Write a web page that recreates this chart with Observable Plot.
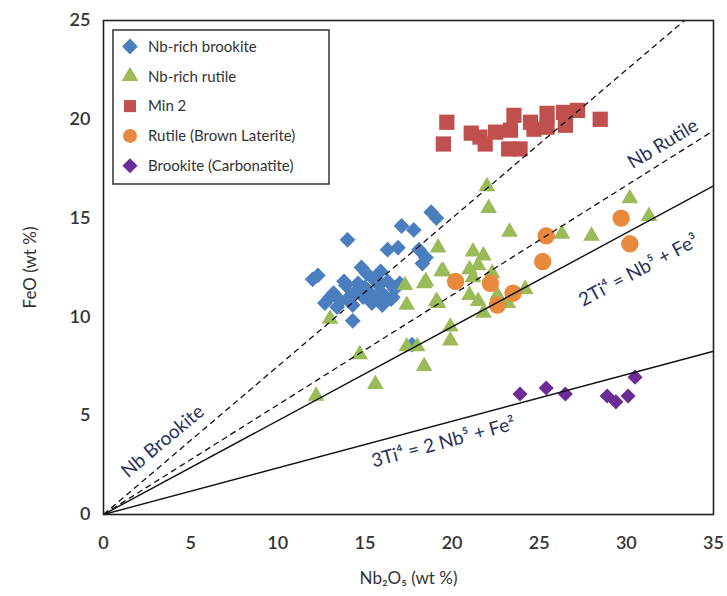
<!DOCTYPE html>
<html><head><meta charset="utf-8">
<script src="https://cdn.jsdelivr.net/npm/d3@7"></script>
<script src="https://cdn.jsdelivr.net/npm/@observablehq/plot@0.6"></script>
<style>
body{margin:0;background:#fff}
#wrap{width:727px;height:596px}
</style></head><body><div id="wrap"></div>
<script>
// ---- data (Nb2O5 wt %, FeO wt %) ----
const nbRichBrookite = [
  [12.0,11.9],[12.3,12.1],[14.0,13.9],[18.8,15.3],[19.1,15.0],[17.1,14.6],[17.8,14.4],
  [16.3,13.4],[16.9,13.5],[18.1,13.4],[18.5,13.0],[18.3,12.7],[14.8,12.5],[15.9,12.3],
  [14.3,9.8],[17.7,8.6],
  [12.7,10.7],[13.2,11.2],[13.6,10.8],[13.8,11.8],[13.9,11.6],[14.2,11.1],[14.3,10.6],
  [14.6,11.7],[14.9,11.0],[15.1,12.2],[15.2,11.3],[15.4,10.7],[15.8,11.6],[16.1,11.1],
  [16.3,11.8],[16.5,10.9],[16.7,11.4],[17.0,11.7],[13.4,10.5],[15.6,11.0],[16.0,10.6],
  [13.0,11.0],[14.0,10.9],[15.0,11.5],[15.5,11.9],[16.6,11.0],[14.5,11.3]
];
const nbRichRutile = [
  [12.2,6.0],[13.0,9.9],[14.7,8.1],[15.6,6.6],[17.4,8.5],[18.0,8.5],[18.4,7.5],
  [17.3,11.6],[18.4,11.7],[17.4,10.6],[19.1,10.8],[19.2,13.5],[19.4,12.3],[18.5,11.8],
  [19.2,10.7],[19.9,9.5],[19.9,8.8],[21.2,13.3],[21.8,13.1],[21.0,12.4],[21.5,12.6],
  [19.5,12.3],[22.3,12.2],[21.0,11.1],[21.5,10.8],[21.8,10.2],[23.2,10.7],[24.2,11.4],
  [21.2,12.0],[22.6,11.1],[22.0,16.6],[22.1,15.5],[23.3,14.3],[26.3,14.2],[28.0,14.1],
  [30.2,16.0],[31.3,15.1]
];
const min2 = [
  [19.7,19.85],[19.5,18.75],[21.1,19.3],[21.6,19.1],[21.9,18.75],[22.5,19.35],[23.35,19.45],
  [23.55,20.2],[23.25,18.5],[23.9,18.5],[24.5,19.85],[24.7,19.5],[25.45,20.3],[25.45,19.6],
  [26.4,20.35],[26.5,19.7],[27.2,20.45],[28.5,20.0]
];
const rutileLaterite = [
  [20.2,11.8],[22.2,11.7],[23.5,11.2],[22.6,10.6],[25.4,14.1],[25.2,12.8],[29.7,15.0],[30.2,13.7]
];
const brookiteCarbonatite = [
  [23.9,6.1],[25.4,6.4],[26.5,6.1],[28.9,6.0],[29.4,5.7],[30.1,6.0],[30.5,6.95]
];

const seriesNames = ["Nb-rich brookite","Nb-rich rutile","Min 2","Rutile (Brown Laterite)","Brookite (Carbonatite)"];
const seriesColors = ["#4a7ebf","#9bbb59","#c0504d","#e8893d","#6b2d95"];
const seriesSymbols = ["diamond2","triangle","square","circle","diamond2"];
const seriesR = [7.1, 6.2, 8.6, 8.7, 6.8];
const seriesData = [nbRichBrookite, nbRichRutile, min2, rutileLaterite, brookiteCarbonatite];

const lineNames = ["Nb Brookite","Nb Rutile","2Ti\u2074 = Nb\u2075 + Fe\u00b3","3Ti\u2074 = 2 Nb\u2075 + Fe\u00b2"];
const lineSlopes = [0.75, 0.555, 0.475, 0.236];
const lineDashed = [true, true, false, false];
const labelX = [3.4, 32.1, 30.7, 19.5];
const labelY = [3.7, 18.75, 12.35, 3.65];
const labelAngle = [-40, -31, -28, -15];

const xTicks = [0,5,10,15,20,25,30,35];
const yTicks = [0,5,10,15,20,25];
const xMax = 35, yMax = 25;

// ---- build ----
const lines = lineNames.map((name,i)=>({name, slope: lineSlopes[i], dashed: lineDashed[i],
  lx: labelX[i], ly: labelY[i], angle: labelAngle[i]}));
const endX = d => Math.min(xMax, yMax / d.slope);

const dotMarks = seriesData.map((data,i)=>Plot.dot(data, {
  x: d=>d[0], y: d=>d[1], symbol: seriesSymbols[i], r: seriesR[i], fill: seriesColors[i], stroke: "none"
}));

const plot = Plot.plot({
  width: 727, height: 596,
  marginLeft: 103, marginRight: 14, marginTop: 20, marginBottom: 82,
  x: {domain: [0, xMax]},
  y: {domain: [0, yMax]},
  style: {fontFamily: "Lato, 'Open Sans', sans-serif", fontSize: "18px", color: "#333", background: "#fff", overflow: "visible"},
  marks: [
    Plot.axisX(xTicks, {tickSize: 0, tickPadding: 22, fontSize: 18, fontWeight: 600, label: null}),
    Plot.axisY(yTicks, {tickSize: 0, tickPadding: 13, fontSize: 18, fontWeight: 600, label: null}),
    ...dotMarks,
    Plot.link(lines.filter(d=>d.dashed), {x1: 0, y1: 0, x2: endX, y2: d=>d.slope*endX(d),
      stroke: "#111", strokeWidth: 1.3, strokeDasharray: "6,4"}),
    Plot.link(lines.filter(d=>!d.dashed), {x1: 0, y1: 0, x2: endX, y2: d=>d.slope*endX(d),
      stroke: "#111", strokeWidth: 1.4}),
    Plot.frame({stroke: "#222", strokeWidth: 1.6}),
    Plot.text(lines, {x: "lx", y: "ly", text: "name", rotate: "angle", fill: "#25335e",
      fontSize: 19, textAnchor: "middle", lineAnchor: "middle"}),
    Plot.text(["FeO (wt %)"], {frameAnchor: "left", dx: -73, rotate: -90, textAnchor: "middle",
      lineAnchor: "middle", fontSize: 17, fill: "#333"}),
    Plot.text(["Nb\u2082O\u2085 (wt %)"], {frameAnchor: "bottom", dy: 64, textAnchor: "middle",
      lineAnchor: "middle", fontSize: 17, fill: "#333"})
  ]
});

// ---- legend (inside plot area, top-left) ----
const svg = d3.select(plot);
const lg = svg.append("g").attr("transform", "translate(113,30)").attr("text-anchor", "start");
lg.append("rect").attr("width", 216).attr("height", 154).attr("fill", "#fff")
  .attr("stroke", "#333").attr("stroke-width", 1.5);
const d3Sym = {diamond2: d3.symbolDiamond2, triangle: d3.symbolTriangle, square: d3.symbolSquare, circle: d3.symbolCircle};
seriesNames.forEach((name, i) => {
  const cy = 16.5 + i * 29.8;
  const r = seriesSymbols[i] === "square" ? 6.8 : seriesSymbols[i] === "circle" ? 7 : seriesR[i];
  lg.append("path").attr("transform", `translate(17,${cy})`)
    .attr("d", d3.symbol(d3Sym[seriesSymbols[i]], r * r * Math.PI)())
    .attr("fill", seriesColors[i]);
  lg.append("text").attr("x", 35).attr("y", cy).attr("dy", "0.35em")
    .attr("text-anchor", "start")
    .attr("font-size", 15).attr("fill", "#333").text(name);
});

document.getElementById("wrap").appendChild(plot);
</script>
</body></html>
